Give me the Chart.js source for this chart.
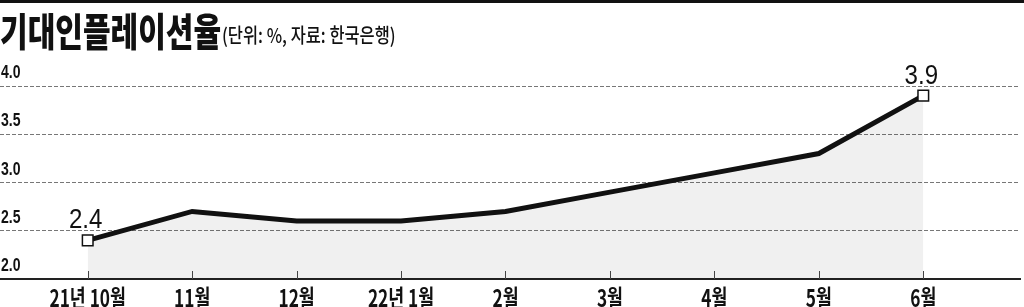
<!DOCTYPE html>
<html>
<head>
<meta charset="utf-8">
<script src="https://cdn.jsdelivr.net/npm/chart.js@4.4.1/dist/chart.umd.min.js"></script>
<style>
html,body{margin:0;padding:0;background:#fff;width:1024px;height:307px;overflow:hidden}
#wrap{position:relative;width:1024px;height:307px;overflow:hidden}
#topline{position:absolute;left:0;top:0;width:1024px;height:3px;background:#111}
#title{position:absolute;left:0;top:10px;white-space:nowrap;transform-origin:0 0;
  font-family:'Noto Sans CJK KR',sans-serif;font-weight:900;font-size:39px;line-height:39px;color:#111}
#sub{position:absolute;left:222px;top:25px;white-space:nowrap;transform-origin:0 0;
  font-family:'Noto Sans CJK KR',sans-serif;font-weight:500;font-size:20px;line-height:20px;color:#111}
canvas{position:absolute;left:0;top:0}
</style>
</head>
<body>
<div id="wrap">
  <canvas id="c" width="1024" height="318" style="width:1024px;height:318px"></canvas>
  <div id="topline"></div>
  <div id="title">기대인플레이션율</div>
  <div id="sub">(단위: %, 자료: 한국은행)</div>
</div>
<script>
const categories = ['21년 10월', '11월', '12월', '22년 1월', '2월', '3월', '4월', '5월', '6월'];
const values = [2.4, 2.7, 2.6, 2.6, 2.7, 2.9, 3.1, 3.3, 3.9];
const yTicks = [2.0, 2.5, 3.0, 3.5, 4.0];
const labelledIdx = [0, 8];

function fitWidth(id, target){
  const el = document.getElementById(id);
  const w = el.scrollWidth;
  el.style.transform = 'scaleX(' + (target / w) + ')';
}
fitWidth('title', 221);
fitWidth('sub', 174);

const decor = {
  id: 'decor',
  afterDraw(chart){
    const {ctx, scales: {x, y}, chartArea} = chart;
    ctx.save();
    ctx.strokeStyle = '#444';
    ctx.lineWidth = 1;
    categories.forEach((c, i) => {
      const px = Math.round(x.getPixelForValue(i)) + 0.5;
      ctx.beginPath();
      ctx.moveTo(px, chartArea.bottom);
      ctx.lineTo(px, chartArea.bottom - 8);
      ctx.stroke();
    });
    ctx.fillStyle = '#111';
    ctx.textBaseline = 'top';
    ctx.textAlign = 'center';
    ctx.font = "bold 24px 'Noto Sans CJK KR'";
    categories.forEach((c, i) => {
      const px = x.getPixelForValue(i);
      ctx.save();
      ctx.translate(px, chartArea.bottom + 7);
      ctx.scale(0.72, 1);
      ctx.fillText(c, 0, 0);
      ctx.restore();
    });
    ctx.textAlign = 'left';
    ctx.textBaseline = 'alphabetic';
    ctx.font = "bold 18px 'Liberation Sans'";
    yTicks.forEach(v => {
      const py = y.getPixelForValue(v);
      ctx.save();
      ctx.translate(1, py - 8);
      ctx.scale(0.78, 1);
      ctx.fillText(v.toFixed(1), 0, 0);
      ctx.restore();
    });
    const meta = chart.getDatasetMeta(0);
    ctx.textAlign = 'center';
    ctx.font = "28px 'Liberation Sans'";
    labelledIdx.forEach(i => {
      const pt = meta.data[i];
      ctx.save();
      ctx.translate(pt.x - 2, pt.y - 12);
      ctx.scale(0.86, 1);
      ctx.fillText(values[i].toFixed(1), 0, 0);
      ctx.restore();
    });
    ctx.restore();
  }
};

new Chart(document.getElementById('c'), {
  type: 'line',
  data: {
    datasets: [{
      data: values.map((v, i) => ({x: i, y: v})),
      borderColor: '#111',
      borderWidth: 5,
      tension: 0,
      fill: 'start',
      backgroundColor: 'rgba(0,0,0,0.06)',
      pointStyle: 'rect',
      pointRadius: c => labelledIdx.includes(c.dataIndex) ? 7.5 : 0,
      pointHoverRadius: 0,
      pointBackgroundColor: '#fff',
      pointBorderColor: '#111',
      pointBorderWidth: 1.5
    }]
  },
  options: {
    responsive: false,
    animation: false,
    events: [],
    layout: {autoPadding: false, padding: {top: 86, left: 0, right: 4, bottom: 0}},
    plugins: {legend: {display: false}, tooltip: {enabled: false}},
    scales: {
      x: {
        type: 'linear',
        min: -0.8397,
        max: 8.926,
        afterBuildTicks: s => { s.ticks = categories.map((_, i) => ({value: i})); },
        ticks: {display: false},
        grid: {display: true, drawOnChartArea: false, drawTicks: false},
        border: {display: true, color: '#222', width: 2},
        afterFit: s => { s.height = 318 - 279; }
      },
      y: {
        min: 2,
        max: 4,
        afterBuildTicks: s => { s.ticks = yTicks.map(v => ({value: v})); },
        ticks: {display: false},
        grid: {color: '#777', lineWidth: 1, drawTicks: false},
        border: {display: false, dash: [4, 2]},
        afterFit: s => { s.width = 0; }
      }
    }
  },
  plugins: [decor]
});
</script>
</body>
</html>
